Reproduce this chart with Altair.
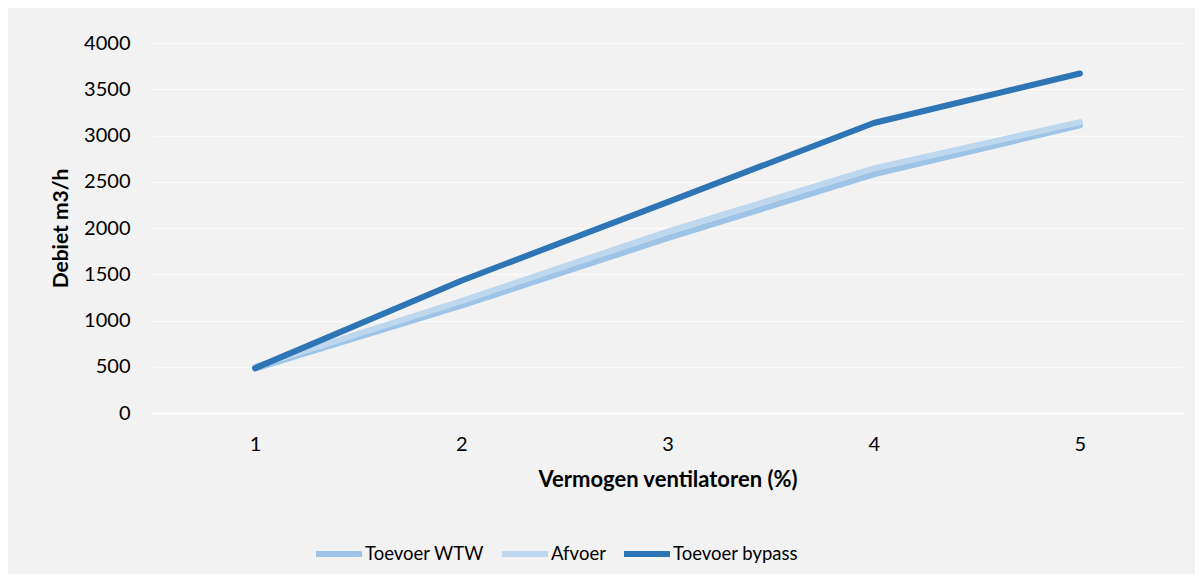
import altair as alt
import pandas as pd

steps = [1, 2, 3, 4, 5]
toevoer_wtw = [480, 1160, 1890, 2580, 3110]
afvoer = [500, 1210, 1960, 2645, 3145]
toevoer_bypass = [485, 1430, 2280, 3135, 3670]
series = ["Toevoer WTW", "Afvoer", "Toevoer bypass"]
colors = ["#9dc3e6", "#bdd7ee", "#2e75b6"]

rows = []
for name, vals in zip(series, [toevoer_wtw, afvoer, toevoer_bypass]):
    for s, v in zip(steps, vals):
        rows.append({"step": s, "debiet": v, "serie": name})
df = pd.DataFrame(rows)

FONT = "Lato"

chart = alt.Chart(df).mark_line(strokeWidth=6, strokeCap="round", strokeJoin="round").encode(
    x=alt.X("step:Q",
            scale=alt.Scale(domain=[0.5, 5.5], nice=False, zero=False),
            axis=alt.Axis(values=steps, format="d", grid=False, ticks=False,
                          domainColor="#ffffff", domainWidth=2,
                          labelPadding=21, labelFontSize=20, labelColor="#000000",
                          labelFont=FONT,
                          title="Vermogen ventilatoren (%)", titleFont=FONT,
                          titleFontSize=22, titleFontWeight="bold", titleColor="#000000",
                          titlePadding=15)),
    y=alt.Y("debiet:Q",
            scale=alt.Scale(domain=[0, 4000], nice=False),
            axis=alt.Axis(values=[0, 500, 1000, 1500, 2000, 2500, 3000, 3500, 4000],
                          format="d",
                          grid=True, gridColor="#fbfbfb", gridWidth=1.5,
                          domain=False, ticks=False, labelPadding=22,
                          labelFontSize=20, labelColor="#000000", labelFont=FONT,
                          title="Debiet m3/h", titleFont=FONT, titleFontSize=21,
                          titleFontWeight="bold", titleColor="#000000", titlePadding=12)),
    color=alt.Color("serie:N",
                    scale=alt.Scale(domain=series, range=colors),
                    sort=series,
                    legend=alt.Legend(title=None, orient="none", direction="horizontal",
                                      legendX=161, legendY=485,
                                      symbolType="stroke", symbolSize=2116,
                                      symbolStrokeWidth=6, labelFontSize=18.5,
                                      labelFont=FONT, labelColor="#000000",
                                      labelOffset=0, columnPadding=6)),
    order=alt.Order("step:Q"),
).properties(
    width=1031,
    height=370,
    background="#f2f2f2",
    padding={"left": 144, "top": 35, "right": 12, "bottom": 161},
    autosize=alt.AutoSizeParams(type="none"),
).configure_view(stroke=None, fill="#f2f2f2")

chart.save("out.html", embed_options={"renderer": "svg", "actions": False})
